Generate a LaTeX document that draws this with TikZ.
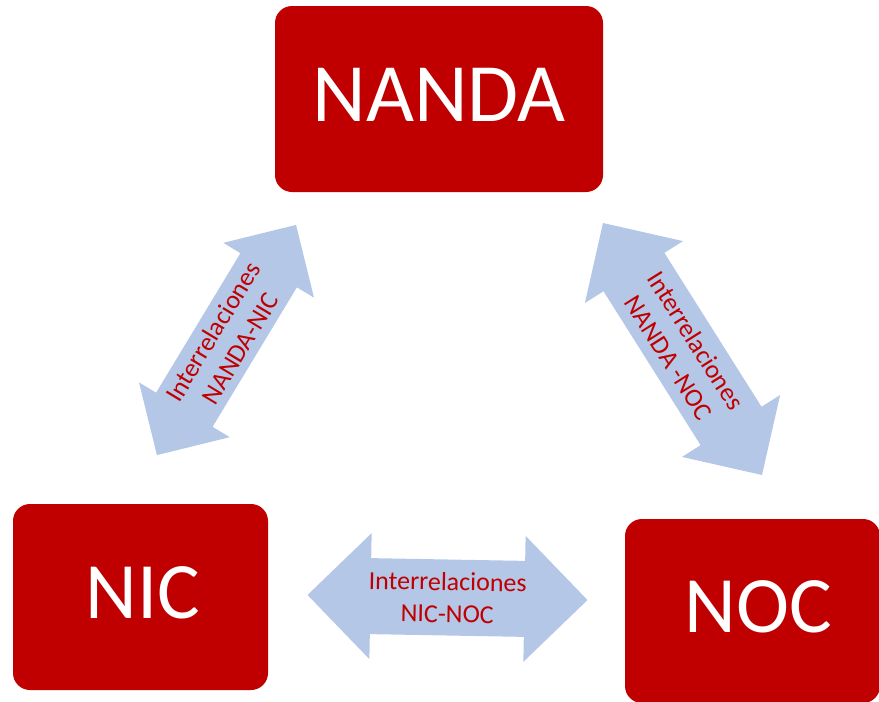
\documentclass[tikz,border=0pt]{standalone}
\usepackage{fontspec}
\setmainfont{Carlito}
\usepackage{xcolor}
\definecolor{boxred}{HTML}{C00000}
\definecolor{arrowblue}{HTML}{B4C7E7}

\begin{document}
\begin{tikzpicture}[x=1pt, y=-1pt,
    termbox/.style={fill=boxred, rounded corners=17pt, inner sep=0pt,
        text=white, text depth=8pt, font=\fontsize{80}{96}\selectfont},
    linkfill/.style={fill=arrowblue},
    linktext/.style={text=boxred, align=center, inner sep=0pt,
        font=\fontsize{26}{32}\selectfont}]

        % Canvas
        \useasboundingbox (0,0) rectangle (879,702);
        \clip (0,0) rectangle (879,702);

        % Centres of the three boxes
        \coordinate (C1) at (439, 99);     % Top
        \coordinate (C2) at (140.5, 597);  % Bottom-left
        \coordinate (C3) at (752.5, 611);  % Bottom-right

        % Boxes
        \node[termbox, minimum width=328pt, minimum height=186pt,
            font=\fontsize{83}{99}\selectfont] (nanda) at (C1) {NANDA};
        \node[termbox, minimum width=255pt, minimum height=186pt] (nic) at (C2) {\hspace*{5pt}NIC};
        \node[termbox, minimum width=255pt, minimum height=184pt] (noc) at (C3) {\hspace*{12pt}NOC};

        % Double arrow NANDA - NIC
        \begin{scope}[shift={(226.5, 340)}, rotate=58.85]
        \fill[linkfill] (-134.5,0) -- (-81.5,53) -- (-81.5,33) -- (81.5,33) -- (81.5,53)
            -- (134.5,0) -- (81.5,-53) -- (81.5,-33) -- (-81.5,-33) -- (-81.5,-53) -- cycle;
        \node[linktext, rotate=58.85] (l1) at (0,0) {Interrelaciones\\NANDA-NIC};
        \end{scope}

        % Double arrow NANDA - NOC
        \begin{scope}[shift={(682.5, 349)}, rotate=-57.75]
        \fill[linkfill] (-149,0) -- (-91,58) -- (-91,36) -- (91,36) -- (91,58)
            -- (149,0) -- (91,-58) -- (91,-36) -- (-91,-36) -- (-91,-58) -- cycle;
        \node[linktext, rotate=-57.75] (l2) at (0,0) {Interrelaciones\\NANDA -NOC};
        \end{scope}

        % Double arrow NIC - NOC
        \begin{scope}[shift={(447.5, 597.5)}, rotate=-1.03]
        \fill[linkfill] (-140,0) -- (-77,63) -- (-77,38) -- (77,38) -- (77,63)
            -- (140,0) -- (77,-63) -- (77,-38) -- (-77,-38) -- (-77,-63) -- cycle;
        \node[linktext, rotate=-1.03] (l3) at (0,0) {Interrelaciones\\NIC-NOC};
        \end{scope}

\end{tikzpicture}
\end{document}
